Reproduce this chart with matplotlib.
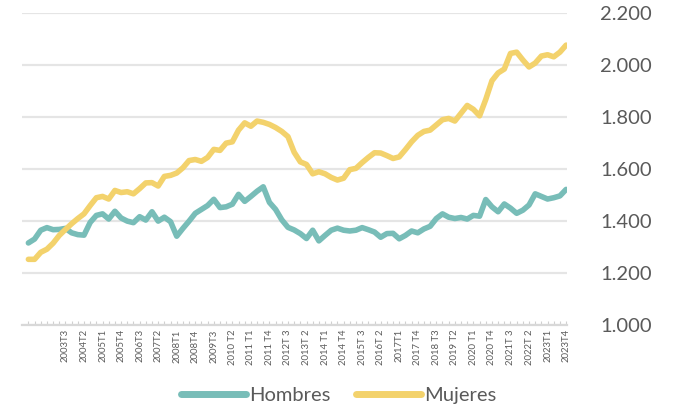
import matplotlib
matplotlib.use("Agg")
import matplotlib.pyplot as plt
from matplotlib.ticker import FuncFormatter

plt.rcParams['font.family'] = ['Lato', 'DejaVu Sans']

# Quarterly series 2002T1 .. 2023T4 (88 quarters)
years = list(range(2002, 2024))
quarters = [f"{y}T{q}" for y in years for q in range(1, 5)]

hombres = [1316, 1331, 1365, 1375, 1367, 1368, 1372, 1355, 1348, 1346,
           1395, 1422, 1428, 1408, 1438, 1412, 1400, 1394, 1417, 1404,
           1436, 1400, 1415, 1398, 1342, 1372, 1400, 1430, 1445, 1460,
           1484, 1452, 1455, 1465, 1503, 1476, 1495, 1515, 1532, 1472,
           1445, 1405, 1376, 1366, 1352, 1333, 1365, 1324, 1345, 1365,
           1373, 1365, 1362, 1365, 1375, 1367, 1358, 1338, 1352, 1353,
           1332, 1345, 1362, 1355, 1370, 1380, 1410, 1428, 1415, 1410,
           1414, 1408, 1422, 1419, 1483, 1455, 1436, 1466, 1450, 1430,
           1442, 1462, 1505, 1495, 1485, 1490, 1497, 1522]

mujeres = [1253, 1253, 1280, 1292, 1315, 1345, 1368, 1390, 1410, 1428,
           1460, 1490, 1495, 1485, 1518, 1510, 1513, 1505, 1525, 1547,
           1548, 1535, 1572, 1576, 1585, 1605, 1633, 1637, 1630, 1645,
           1676, 1672, 1700, 1705, 1750, 1778, 1765, 1785, 1780, 1772,
           1760, 1745, 1725, 1665, 1628, 1618, 1582, 1590, 1582, 1568,
           1558, 1565, 1598, 1603, 1625, 1645, 1663, 1662, 1652, 1641,
           1647, 1675, 1705, 1730, 1745, 1750, 1770, 1790, 1795, 1785,
           1815, 1845, 1830, 1805, 1868, 1940, 1970, 1985, 2045, 2050,
           2020, 1993, 2008, 2035, 2040, 2032, 2050, 2077]

tick_labels = ["2003T3", "2004T2", "2005T1", "2005T4", "2006T3", "2007T2",
               "2008T1", "2008T4", "2009T3", "2010 T2", "2011 T1", "2011 T4",
               "2012T 3", "2013T 2", "2014 T1", "2014 T4", "2015T 3", "2016T 2",
               "2017T1", "2017 T4", "2018 T3", "2019 T2", "2020 T1", "2020 T4",
               "2021T 3", "2022T 2", "2023T1", "2023T4"]
y_ticks = [1000, 1200, 1400, 1600, 1800, 2000, 2200]

teal = "#78bdb8"
yellow = "#f3d26c"
grid_c = "#e5e5e5"
txt_c = "#5a5a5a"

fig = plt.figure(figsize=(6.84, 4.11), dpi=100)
ax = fig.add_axes([0.032, 0.209, 0.797, 0.759])

x = list(range(len(quarters)))
ax.plot(x, hombres, color=teal, lw=4.0, solid_capstyle='round',
        solid_joinstyle='round', label="Hombres", zorder=3)
ax.plot(x, mujeres, color=yellow, lw=4.0, solid_capstyle='round',
        solid_joinstyle='round', label="Mujeres", zorder=3)

ax.set_ylim(1000, 2200)
ax.set_xlim(-1.05, 87.15)
ax.set_yticks(y_ticks)
ax.yaxis.set_major_formatter(FuncFormatter(lambda v, p: f"{int(v):,}".replace(",", ".")))
ax.yaxis.tick_right()
ax.tick_params(axis='y', length=0, pad=24, labelsize=14.5, labelcolor=txt_c)
ax.grid(axis='y', color=grid_c, lw=1.6, zorder=0)

ax.set_xticks(x, minor=True)
label_pos = list(range(6, 88, 3))
ax.set_xticks(label_pos)
ax.set_xticklabels(tick_labels, rotation=90, fontsize=6.8, color=txt_c)
ax.tick_params(axis='x', which='both', direction='in', length=3, width=0.8,
               color="#d0d0d0", pad=3)

for s in ['top', 'right', 'left']:
    ax.spines[s].set_visible(False)
ax.spines['bottom'].set_color("#d8d8d8")
ax.spines['bottom'].set_linewidth(1.6)

leg = fig.legend(loc='center', bbox_to_anchor=(0.495, 0.037), ncol=2,
                 frameon=False, fontsize=14.5, handlelength=3.2,
                 handletextpad=0.15, columnspacing=1.3)
for t in leg.get_texts():
    t.set_color(txt_c)
for h in leg.get_lines():
    h.set_linewidth(5)

fig.savefig("out.png", dpi=100)
